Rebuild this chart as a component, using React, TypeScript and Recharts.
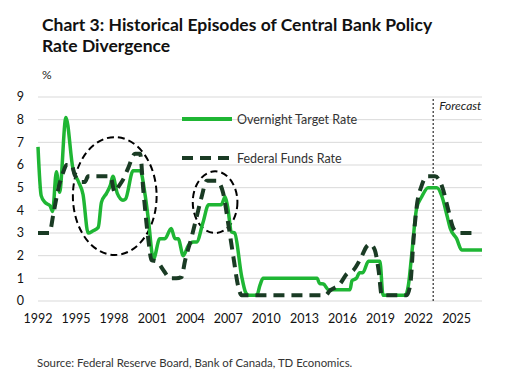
import React from 'react';
import { LineChart, Line, XAxis, YAxis, CartesianGrid, ReferenceArea, ReferenceLine } from 'recharts';

// Bank of Canada overnight target rate (%)
const canYears = [1992.0, 1992.25, 1992.55, 1992.95, 1993.15, 1993.45, 1993.7, 1994.2, 1994.75, 1995.2, 1995.55, 1995.95, 1996.35, 1996.75, 1997.0, 1997.4, 1997.7, 1997.9, 1998.25, 1998.7, 1998.9, 1999.5, 2000.05, 2000.45, 2000.7, 2001.1, 2001.6, 2002.0, 2002.5, 2002.8, 2003.05, 2003.45, 2003.85, 2004.25, 2004.5, 2005.0, 2005.45, 2006.45, 2006.75, 2006.95, 2007.25, 2007.5, 2008.05, 2008.35, 2008.6, 2009.25, 2009.5, 2009.75, 2014.0, 2014.2, 2014.5, 2014.9, 2016.6, 2016.75, 2017.1, 2017.35, 2017.6, 2018.05, 2018.95, 2019.2, 2020.95, 2021.2, 2021.45, 2021.85, 2022.25, 2022.75, 2023.45, 2023.85, 2024.25, 2024.5, 2025.0, 2025.4, 2027.0];
const canRates = [6.8, 4.65, 4.35, 4.2, 3.95, 5.7, 4.8, 8.1, 5.85, 5.25, 4.7, 3.0, 3.1, 3.25, 4.35, 4.75, 5.1, 5.5, 4.75, 4.45, 4.5, 5.75, 5.75, 4.65, 3.6, 1.85, 2.75, 2.75, 3.2, 2.75, 2.75, 2.0, 2.45, 2.6, 2.6, 3.45, 4.25, 4.25, 4.6, 4.15, 3.05, 3.0, 1.1, 0.4, 0.25, 0.25, 0.7, 1.0, 1.0, 0.77, 0.75, 0.5, 0.5, 0.9, 1.0, 1.25, 1.25, 1.75, 1.75, 0.25, 0.25, 0.7, 2.0, 4.1, 4.6, 5.0, 5.0, 4.6, 3.75, 3.2, 2.75, 2.25, 2.25];

// US federal funds rate (%)
const fedYears = [1992.0, 1992.9, 1993.2, 1993.6, 1994.0, 1994.25, 1994.65, 1994.9, 1995.45, 1995.7, 1995.95, 1997.7, 1998.05, 1998.35, 1998.75, 1999.1, 1999.65, 2000.05, 2000.3, 2000.7, 2000.95, 2001.35, 2001.9, 2002.4, 2002.9, 2003.3, 2003.6, 2004.1, 2004.5, 2004.9, 2005.3, 2006.1, 2006.6, 2007.0, 2007.4, 2007.8, 2008.05, 2014.65, 2015.0, 2015.8, 2016.35, 2016.85, 2017.5, 2017.9, 2018.2, 2018.55, 2018.85, 2019.1, 2021.05, 2021.35, 2021.6, 2021.85, 2022.25, 2022.65, 2023.3, 2023.85, 2024.35, 2024.75, 2025.2, 2026.6];
const fedRates = [3.0, 3.0, 3.8, 4.95, 5.7, 6.0, 6.0, 5.55, 5.25, 5.25, 5.5, 5.5, 4.8, 5.05, 5.4, 5.85, 6.5, 6.5, 4.9, 2.7, 1.8, 1.75, 1.35, 1.0, 1.0, 1.05, 1.8, 2.8, 3.7, 4.6, 5.3, 5.3, 4.75, 3.4, 1.95, 0.6, 0.25, 0.25, 0.45, 0.75, 1.2, 1.35, 1.95, 2.4, 2.5, 2.25, 1.35, 0.25, 0.25, 0.75, 2.7, 4.15, 5.1, 5.5, 5.5, 5.05, 4.0, 3.2, 3.0, 3.0];

const xTicks = [1992, 1995, 1998, 2001, 2004, 2007, 2010, 2013, 2016, 2019, 2022, 2025];
const yTicks = [0, 1, 2, 3, 4, 5, 6, 7, 8, 9];
const forecastStart = 2023.15;

// divergence episodes circled on the chart: [x1, x2, y1, y2]
const episodes = [
    [1994.75, 2001.35, 2.03, 7.23],
    [2004.2, 2007.72, 3.0, 5.72],
];

const canData = canYears.map((year, i) => ({ year, rate: canRates[i] }));
const fedData = fedYears.map((year, i) => ({ year, rate: fedRates[i] }));

const GREEN = '#1fb634';
const DARK = '#1a3b24';
const FONT = 'Lato, "Open Sans", sans-serif';

const EllipseShape = (props: any) => {
    const { x, y, width, height } = props;
    return (
        <ellipse
            cx={x + width / 2}
            cy={y + height / 2}
            rx={width / 2}
            ry={height / 2}
            fill="none"
            stroke="#000"
            strokeWidth={2}
            strokeDasharray="7 4"
        />
    );
};

const ForecastLabel = (props: any) => {
    const { viewBox } = props;
    return (
        <text x={viewBox.x + 6} y={viewBox.y + 13} fontSize={12} fontStyle="italic" fill="#222" fontFamily={FONT}>
            Forecast
        </text>
    );
};

const LegendBox = () => (
    <div style={{ position: 'absolute', left: 182, top: 109, fontFamily: FONT, fontSize: 12.5, color: '#333' }}>
        <div style={{ display: 'flex', alignItems: 'center', height: 20 }}>
            <svg width={55} height={10}>
                <line x1={0} y1={5} x2={50} y2={5} stroke={GREEN} strokeWidth={4} />
            </svg>
            <span>Overnight Target Rate</span>
        </div>
        <div style={{ display: 'flex', alignItems: 'center', height: 20, marginTop: 19 }}>
            <svg width={55} height={10}>
                <line x1={0} y1={5} x2={50} y2={5} stroke={DARK} strokeWidth={4} strokeDasharray="11 7" />
            </svg>
            <span>Federal Funds Rate</span>
        </div>
    </div>
);

const App: React.FC = () => {
    return (
        <div style={{ position: 'absolute', left: 0, top: 0, width: 505, height: 381, background: '#fff', fontFamily: FONT }}>
            <div style={{ position: 'absolute', left: 42, top: 14, fontSize: 17.5, fontWeight: 700, lineHeight: '21px', color: '#111' }}>
                Chart 3: Historical Episodes of Central Bank Policy<br />Rate Divergence
            </div>
            <div style={{ position: 'absolute', left: 42, top: 67, fontSize: 12, color: '#222' }}>%</div>
            <LineChart width={505} height={381} margin={{ top: 97, right: 23, bottom: 50, left: 0 }}>
                <CartesianGrid stroke="#d9d9d9" vertical={false} />
                <XAxis
                    dataKey="year"
                    type="number"
                    domain={[1992, 2027]}
                    ticks={xTicks}
                    interval={0}
                    allowDuplicatedCategory={false}
                    tick={{ fill: '#111', fontSize: 12.5, fontFamily: FONT }}
                    tickLine={false}
                    axisLine={false}
                    tickSize={0}
                    tickMargin={13}
                    height={30}
                />
                <YAxis
                    domain={[0, 9]}
                    ticks={yTicks}
                    interval={0}
                    tick={{ fill: '#111', fontSize: 12.5, fontFamily: FONT }}
                    tickLine={false}
                    axisLine={false}
                    tickSize={0}
                    tickMargin={14}
                    width={38}
                />
                {episodes.map((e, i) => (
                    <ReferenceArea key={i} x1={e[0]} x2={e[1]} y1={e[2]} y2={e[3]} shape={EllipseShape} ifOverflow="visible" />
                ))}
                <ReferenceLine x={forecastStart} stroke="#000" strokeWidth={1} strokeDasharray="2 2" label={<ForecastLabel />} />
                <Line data={canData} dataKey="rate" type="monotone" stroke={GREEN} strokeWidth={3.5} dot={false} isAnimationActive={false} />
                <Line data={fedData} dataKey="rate" type="monotone" stroke={DARK} strokeWidth={4} strokeDasharray="11 7" dot={false} isAnimationActive={false} />
            </LineChart>
            <LegendBox />
            <div style={{ position: 'absolute', left: 37, top: 356, fontSize: 11.4, color: '#333' }}>
                Source: Federal Reserve Board, Bank of Canada, TD Economics.
            </div>
        </div>
    );
};

export default App;
